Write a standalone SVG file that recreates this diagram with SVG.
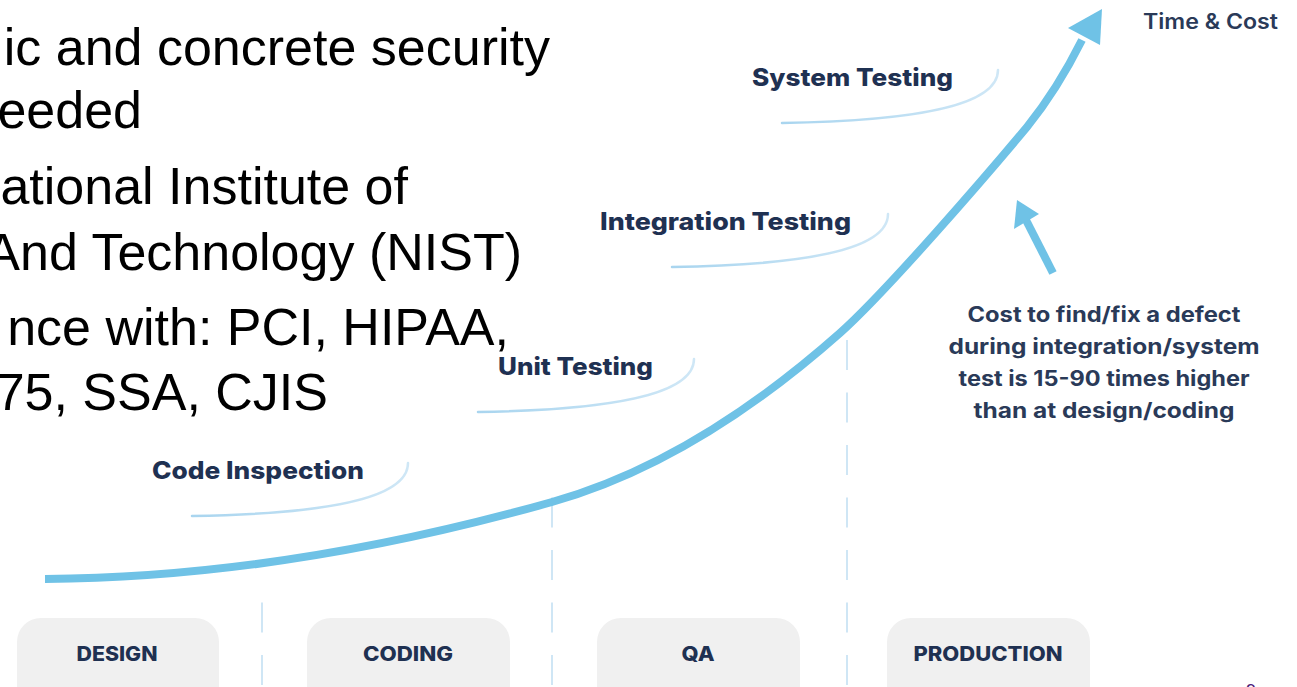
<svg xmlns="http://www.w3.org/2000/svg" width="1297" height="687" viewBox="0 0 1297 687">
<style>
.body{font-family:"Liberation Sans",Arial,sans-serif;font-size:52px;fill:#000;}
.lbl{font-family:Inter,"Noto Sans",sans-serif;font-weight:800;font-size:24px;fill:#1f3152;}
.note{font-family:Inter,"Noto Sans",sans-serif;font-weight:700;font-size:21px;fill:#2a3a58;text-anchor:middle;}
.phase{font-family:Inter,"Noto Sans",sans-serif;font-weight:800;font-size:20px;fill:#1f3152;text-anchor:middle;}
.box{fill:#f0f0f0;}
.dash{stroke:#cfe6f5;stroke-width:2;stroke-dasharray:30 22.5;fill:none;}
.arc{stroke:url(#arcg);stroke-width:2.5;fill:none;stroke-linecap:round;}
.curve{stroke:#6fc2e6;stroke-width:8;fill:none;}
</style>
<defs>
<linearGradient id="arcg" x1="0" y1="0" x2="1" y2="0">
<stop offset="0" stop-color="#a9d5ef"/>
<stop offset="1" stop-color="#cfe7f6"/>
</linearGradient>
<path id="arcshape" d="M0,0 C128,-2 216,-16 216,-53"/>
</defs>
<rect width="1297" height="687" fill="#fff"/>

<g id="bullets">
<text class="body" x="550" y="65" text-anchor="end">ic and concrete security</text>
<text class="body" x="142" y="128" text-anchor="end">eeded</text>
<text class="body" x="408" y="204" text-anchor="end">ational Institute of</text>
<text class="body" x="522" y="270" text-anchor="end">And Technology (NIST)</text>
<text class="body" x="509" y="345" text-anchor="end">nce with: PCI, HIPAA,</text>
<text class="body" x="328" y="410" text-anchor="end">75, SSA, CJIS</text>
</g>

<g id="dividers">
<line class="dash" x1="262" y1="602.5" x2="262" y2="687"/>
<line class="dash" x1="552" y1="497.5" x2="552" y2="687"/>
<line class="dash" x1="847" y1="340" x2="847" y2="687"/>
</g>

<g id="connectors">
<path class="curve" d="M45,579 C215,578 382,550 552,502 C648,475 744,418 840,333 C886,292 987,175 1027,127 C1052,96 1068,68 1082,40"/>
<polygon points="1102,9 1068,28 1100,45" fill="#6fc2e6"/>
<line x1="1053" y1="273" x2="1026" y2="220" stroke="#6fc2e6" stroke-width="8"/>
<polygon points="1017,200 1014,229 1039,214" fill="#6fc2e6"/>
</g>

<g id="code-inspection">
<text class="lbl" x="152" y="479" textLength="212" lengthAdjust="spacingAndGlyphs">Code Inspection</text>
<use href="#arcshape" class="arc" transform="translate(192,516)"/>
</g>
<g id="unit-testing">
<text class="lbl" x="498" y="375" textLength="155" lengthAdjust="spacingAndGlyphs">Unit Testing</text>
<use href="#arcshape" class="arc" transform="translate(478,412)"/>
</g>
<g id="integration-testing">
<text class="lbl" x="600" y="230" textLength="251" lengthAdjust="spacingAndGlyphs">Integration Testing</text>
<use href="#arcshape" class="arc" transform="translate(672,267)"/>
</g>
<g id="system-testing">
<text class="lbl" x="752" y="86" textLength="201" lengthAdjust="spacingAndGlyphs">System Testing</text>
<use href="#arcshape" class="arc" transform="translate(782,123)"/>
</g>
<g id="time-cost">
<text x="1143" y="29" textLength="135" lengthAdjust="spacingAndGlyphs" style="font-family:Inter,'Noto Sans',sans-serif;font-weight:600;font-size:21px;fill:#2a3a58;">Time &amp; Cost</text>
</g>

<g id="cost-note">
<text class="note" x="1104" y="322" textLength="273" lengthAdjust="spacingAndGlyphs">Cost to find/fix a defect</text>
<text class="note" x="1104" y="354" textLength="311" lengthAdjust="spacingAndGlyphs">during integration/system</text>
<text class="note" x="1104" y="386" textLength="291" lengthAdjust="spacingAndGlyphs">test is 15-90 times higher</text>
<text class="note" x="1104" y="418" textLength="261" lengthAdjust="spacingAndGlyphs">than at design/coding</text>
</g>

<g id="design">
<rect class="box" x="17" y="618" width="202" height="95" rx="24"/>
<text class="phase" x="117" y="661" textLength="81" lengthAdjust="spacingAndGlyphs">DESIGN</text>
</g>
<g id="coding">
<rect class="box" x="307" y="618" width="203" height="95" rx="24"/>
<text class="phase" x="408" y="661" textLength="90" lengthAdjust="spacingAndGlyphs">CODING</text>
</g>
<g id="qa">
<rect class="box" x="597" y="618" width="203" height="95" rx="24"/>
<text class="phase" x="698" y="661" textLength="33" lengthAdjust="spacingAndGlyphs">QA</text>
</g>
<g id="production">
<rect class="box" x="887" y="618" width="203" height="95" rx="24"/>
<text class="phase" x="988" y="661" textLength="149" lengthAdjust="spacingAndGlyphs">PRODUCTION</text>
</g>

<text x="1246" y="697" style="font-family:'Liberation Sans',sans-serif;font-size:18px;fill:#4b1a7a;">9</text>
</svg>
